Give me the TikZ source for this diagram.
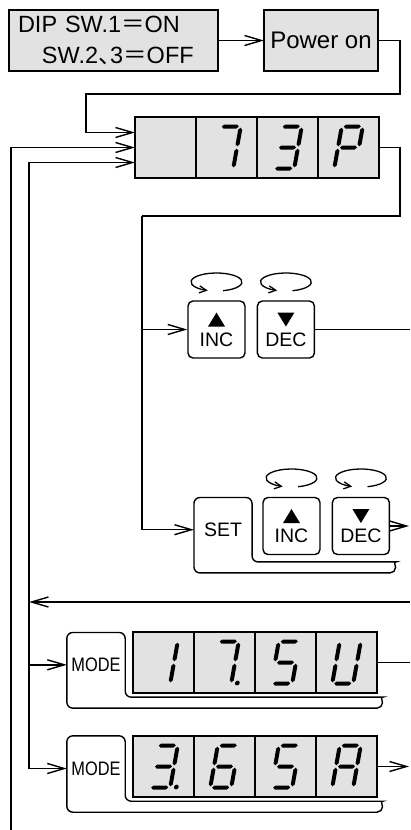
\documentclass[tikz,border=0pt]{standalone}
\usepackage{fontspec}
\setmainfont{Liberation Sans}
\newfontfamily\cjk{Noto Sans CJK JP}
\usepackage{graphicx}
\usetikzlibrary{arrows.meta,positioning}
\definecolor{ink}{HTML}{000000}
\definecolor{panel}{HTML}{E2E2E2}
\newcommand\uptri{\tikz[sharp corners]\fill (0pt,0pt)--(17pt,0pt)--(8.5pt,14pt)--cycle;}
\newcommand\dntri{\tikz[sharp corners]\fill (0pt,14pt)--(17pt,14pt)--(8.5pt,0pt)--cycle;}
\newcommand\hsegat[1]{\fill[shift={#1}] (-8.5,0)--(-6.5,-2)--(6.5,-2)--(8.5,0)--(6.5,2)--(-6.5,2)--cycle;}
\newcommand\vsegat[1]{\fill[shift={#1}] (0,-9.3)--(2,-7.3)--(2,7.3)--(0,9.3)--(-2,7.3)--(-2,-7.3)--cycle;}
\newcommand\sega{\hsegat{(0,-21)}}
\newcommand\segb{\vsegat{(10.5,-10.5)}}
\newcommand\segc{\vsegat{(10.5,10.5)}}
\newcommand\segd{\hsegat{(0,21)}}
\newcommand\sege{\vsegat{(-10.5,10.5)}}
\newcommand\segf{\vsegat{(-10.5,-10.5)}}
\newcommand\segg{\hsegat{(0,0)}}
\newcommand\segp{\fill (16.5,20.5) circle[radius=2.4];}
\tikzset{
  panelbox/.style={draw=ink,fill=panel,line width=1.4pt,inner sep=0pt,outer sep=0pt},
  cellbox/.style={panelbox,minimum width=61pt,minimum height=61pt},
  keybox/.style={draw=ink,line width=1.4pt,rounded corners=5pt,minimum width=57pt,
    minimum height=57pt,inner sep=0pt,align=center,font=\fontsize{19.5}{19.7}\selectfont},
  keytext/.style={inner sep=0pt,font=\fontsize{19.5}{22}\selectfont},
  keyline/.style={draw=ink,line width=1.4pt},
  flowline/.style={draw=ink,line width=1.4pt},
  flowarrow/.style={flowline,-{Straight Barb[length=17pt,width=10pt]}},
  turnarrow/.style={draw=ink,line width=1.3pt,-{Straight Barb[length=7pt,width=7pt]}},
  pics/digit/.style={code={
    \begin{scope}[xslant=0.18]
      \foreach \s in {#1}{\csname seg\s\endcsname}
    \end{scope}}},
  pics/turn/.style={code={
    \draw[turnarrow] (75:25.5 and 9) arc[start angle=75,end angle=-250,x radius=25.5,y radius=9];}}
}

\begin{document}
\begin{tikzpicture}[x=1pt,y=-1pt]
\useasboundingbox (0,0) rectangle (410,830);
\node[panelbox,minimum width=209pt,minimum height=61pt,text width=191pt,align=left,
  font=\fontsize{23.5}{31}\selectfont] (dip) at (113.5,40.5)
  {DIP SW.1{\cjk ＝}ON\\\hspace*{24pt}SW.2\makebox[12pt][l]{\cjk 、}3{\cjk ＝}OFF};
\node[panelbox,minimum width=114pt,minimum height=61pt,font=\fontsize{24}{28}\selectfont] (pwr) at (321,40.5) {Power on};
\draw[flowarrow] (dip) -- (pwr);

\node[cellbox] (d0a) at (165.5,147.5) {};
\node[cellbox,right=0pt of d0a] (d0b) {};
\node[cellbox,right=0pt of d0b] (d0c) {};
\node[cellbox,right=0pt of d0c] (d0d) {};
\pic at (d0b) {digit={a,b,c}};
\pic at (d0c) {digit={a,b,g,c,d}};
\pic at (d0d) {digit={a,b,g,e,f}};

\coordinate (p1) at (400,94);
\coordinate (p2) at (86,94);
\draw[flowarrow] (pwr.east) -| (p1) -- (p2) |- ([yshift=15pt]d0a.west);

\node[keybox] (inc1) at (216.5,329.5) {\uptri\\INC};
\node[keybox,right=11pt of inc1] (dec1) {\dntri\\DEC};
\pic at ([yshift=47.5pt]inc1.center) {turn};
\pic at ([yshift=47.5pt]dec1.center) {turn};

\node[keytext,minimum width=57.7pt,minimum height=64pt] (set) at (223,529.7) {SET};
\node[keybox] (inc2) at (291.5,526) {\uptri\\INC};
\node[keybox,right=11pt of inc2] (dec2) {\dntri\\DEC};
\pic at ([yshift=48pt]inc2.center) {turn};
\pic at ([yshift=48pt]dec2.center) {turn};
\draw[keyline,rounded corners=6pt] ([yshift=-11pt]set.south west) -- (set.north west) -- (set.north east)
  -- (set.south east) -- (set.south -| dec2.east) [sharp corners] arc[start angle=-90,end angle=90,radius=5.5]
  [rounded corners=6pt] -- cycle;

\coordinate (q1) at (400,216);
\coordinate (q2) at (142,216);
\draw[flowline] (d0d.east) -| (q1) -- (q2);
\draw[flowarrow] (q2) |- (inc1);
\draw[flowarrow] (q2) |- (set);
\coordinate (o1) at (410,329.5);
\draw[flowline] (dec1) -- (o1);
\coordinate (o2) at (409,526);
\draw[flowarrow] (dec2) -- (o2);

\node[keytext,minimum width=58pt,minimum height=64.3pt] (mode1) at (96,664.8) {\scalebox{0.84}[1]{MODE}};
\node[cellbox] (d1a) at (163.5,662.5) {};
\node[cellbox,right=0pt of d1a] (d1b) {};
\node[cellbox,right=0pt of d1b] (d1c) {};
\node[cellbox,right=0pt of d1c] (d1d) {};
\pic at (d1a) {digit={b,c}};
\pic at (d1b) {digit={a,b,c,p}};
\pic at (d1c) {digit={a,f,g,c,d}};
\pic at (d1d) {digit={f,e,d,c,b}};
\draw[keyline,rounded corners=6pt] ([yshift=-11pt]mode1.south west) -- (mode1.north west) -- (mode1.north east)
  -- (mode1.south east) -- (mode1.south -| d1d.east) [sharp corners] arc[start angle=-90,end angle=90,radius=5.5]
  [rounded corners=6pt] -- cycle;
\coordinate (o3) at (410,662.5);
\draw[flowline] (d1d) -- (o3);

\node[keytext,minimum width=58pt,minimum height=65pt] (mode2) at (96,768.5) {\scalebox{0.84}[1]{MODE}};
\node[cellbox] (d2a) at (163.5,766.5) {};
\node[cellbox,right=0pt of d2a] (d2b) {};
\node[cellbox,right=0pt of d2b] (d2c) {};
\node[cellbox,right=0pt of d2c] (d2d) {};
\pic at (d2a) {digit={a,b,g,c,d,p}};
\pic at (d2b) {digit={a,f,g,e,d,c}};
\pic at (d2c) {digit={a,f,g,c,d}};
\pic at (d2d) {digit={a,b,c,e,f,g}};
\draw[keyline,rounded corners=6pt] ([yshift=-11pt]mode2.south west) -- (mode2.north west) -- (mode2.north east)
  -- (mode2.south east) -- (mode2.south -| d2d.east) [sharp corners] arc[start angle=-90,end angle=90,radius=5.5]
  [rounded corners=6pt] -- cycle;
\coordinate (o4) at (409,766.5);
\draw[flowarrow] (d2d) -- (o4);

\coordinate (loop) at (11,830);
\draw[flowarrow] (loop) |- (d0a.west);
\coordinate (ret) at (410,602);
\coordinate (bus) at (29,602);
\draw[flowarrow] (ret) -- (bus);
\draw[flowarrow] (bus) |- ([yshift=-15pt]d0a.west);
\draw[flowarrow] (bus) |- (mode1);
\draw[flowarrow] (bus) |- (mode2);
\end{tikzpicture}
\end{document}
